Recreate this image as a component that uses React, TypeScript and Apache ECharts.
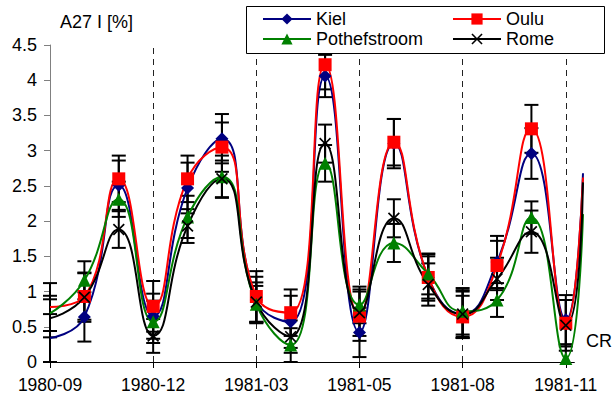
import React, { useEffect, useRef } from 'react';
import * as echarts from 'echarts';

// Carrington-rotation index (one point per rotation)
const rotations = [0, 1, 2, 3, 4, 5, 6, 7, 8, 9, 10, 11, 12, 13, 14, 15];
// Tick positions (every 3 rotations) and their date labels
const tickValues = [0, 3, 6, 9, 12, 15];
const tickLabels = ['1980-09', '1980-12', '1981-03', '1981-05', '1981-08', '1981-11'];

// A27 I [%] values
const kiel = [0.34, 0.64, 2.51, 0.65, 2.47, 3.17, 0.88, 0.57, 4.06, 0.42, 3.1, 1.2, 0.68, 1.42, 2.96, 0.6];
const oulu = [0.78, 0.93, 2.6, 0.79, 2.6, 3.05, 0.93, 0.7, 4.22, 0.65, 3.12, 1.2, 0.64, 1.37, 3.31, 0.55];
const pothefstroom = [0.69, 1.16, 2.31, 0.57, 2.06, 2.63, 0.82, 0.24, 2.82, 0.81, 1.69, 1.25, 0.72, 0.88, 2.05, 0.05];
const rome = [0.62, 0.92, 1.88, 0.37, 1.93, 2.6, 0.85, 0.36, 3.1, 0.7, 2.04, 1.1, 0.68, 1.18, 1.85, 0.52];

// Error half-widths
const kielErr = [0.34, 0.35, 0.35, 0.32, 0.36, 0.35, 0.33, 0.37, 0.3, 0.35, 0.35, 0.33, 0.32, 0.37, 0.36, 0.35];
const ouluErr = [0.34, 0.33, 0.33, 0.36, 0.33, 0.35, 0.36, 0.33, 0.35, 0.35, 0.33, 0.3, 0.3, 0.35, 0.34, 0.33];
const pothefstroomErr = [0.25, 0.27, 0.25, 0.3, 0.3, 0.3, 0.26, 0.24, 0.26, 0.26, 0.27, 0.29, 0.33, 0.24, 0.23, 0.2];
const romeErr = [0.27, 0.35, 0.26, 0.24, 0.24, 0.26, 0.28, 0.23, 0.27, 0.33, 0.27, 0.3, 0.34, 0.3, 0.3, 0.36];

// Curves continue past the last rotation to the plot edge (values read at the edge)
const edgeX = 15.5;
const edgeValues = [2.68, 2.62, 2.1, 2.55]; // Kiel, Oulu, Pothefstroom, Rome
// The horizontal axis line stops a little short of the curves' end
const axisEnd = 15.26;

const Y_MIN = 0;
const Y_MAX = 4.5;

const FONT = '"Liberation Sans", Arial, sans-serif';
const X_PATH = 'path://M0,1L1,0L5,4L9,0L10,1L6,5L10,9L9,10L5,6L1,10L0,9L4,5Z';

const stations = [
  { name: 'Kiel', values: kiel, errors: kielErr, color: '#000080', symbol: 'diamond', size: 13 },
  { name: 'Oulu', values: oulu, errors: ouluErr, color: '#FF0000', symbol: 'rect', size: 13 },
  { name: 'Pothefstroom', values: pothefstroom, errors: pothefstroomErr, color: '#008000', symbol: 'triangle', size: 13 },
  { name: 'Rome', values: rome, errors: romeErr, color: '#000000', symbol: X_PATH, size: 12 },
];

const legendSlots = [
  { name: 'Kiel', left: 262, top: 10 },
  { name: 'Oulu', left: 452, top: 10 },
  { name: 'Pothefstroom', left: 262, top: 30 },
  { name: 'Rome', left: 452, top: 30 },
];

export default function App() {
  const ref = useRef<HTMLDivElement>(null);

  useEffect(() => {
    if (!ref.current) return;
    const chart = echarts.init(ref.current, null, { renderer: 'svg' });

    const lineSeries: any[] = stations.map((s, si) => {
      const data: any[] = s.values.map((v, i) =>
        i === 0 ? { value: [rotations[i], v], symbol: 'none' } : [rotations[i], v]
      );
      data.push({ value: [edgeX, edgeValues[si]], symbol: 'none' });
      const ser: any = {
        name: s.name,
        type: 'line',
        data,
        smooth: 0.5,
        symbol: s.symbol,
        symbolSize: s.size,
        showAllSymbol: true,
        lineStyle: { color: s.color, width: 2 },
        itemStyle: { color: s.color, borderWidth: 0 },
        z: 3,
      };
      if (si === 0) {
        const dashed: any[] = tickValues
          .filter((v) => v > 0)
          .map((v) => ({ xAxis: v }));
        dashed.push([
          { coord: [0, Y_MIN], lineStyle: { type: 'solid', color: '#000', width: 1 } },
          { coord: [axisEnd, Y_MIN] },
        ]);
        ser.markLine = {
          silent: true,
          symbol: ['none', 'none'],
          label: { show: false },
          lineStyle: { color: '#222', type: [6, 5], width: 1 },
          data: dashed,
          z: 1,
        };
      }
      return ser;
    });

    const errData: number[][] = [];
    stations.forEach((s) => {
      s.values.forEach((v, i) => {
        errData.push([rotations[i], v - s.errors[i], v + s.errors[i]]);
      });
    });

    const errorSeries = {
      type: 'custom',
      name: 'errors',
      clip: false,
      z: 2,
      encode: { x: 0, y: [1, 2] },
      data: errData,
      renderItem: (params: any, api: any) => {
        const x = api.value(0);
        const loV = api.value(1);
        const hiV = api.value(2);
        const lo = api.coord([x, Math.max(loV, Y_MIN)]);
        const hi = api.coord([x, Math.min(hiV, Y_MAX)]);
        const w = 7;
        const st = { stroke: '#000', lineWidth: 2 };
        const children: any[] = [
          { type: 'line', shape: { x1: lo[0], y1: lo[1], x2: hi[0], y2: hi[1] }, style: st },
        ];
        if (hiV <= Y_MAX) {
          children.push({ type: 'line', shape: { x1: hi[0] - w, y1: hi[1], x2: hi[0] + w, y2: hi[1] }, style: st });
        }
        if (loV >= Y_MIN) {
          children.push({ type: 'line', shape: { x1: lo[0] - w, y1: lo[1], x2: lo[0] + w, y2: lo[1] }, style: st });
        }
        return { type: 'group', children };
      },
    };

    const legends = legendSlots.map((slot) => ({
      orient: 'horizontal',
      left: slot.left,
      top: slot.top,
      itemWidth: 48,
      itemHeight: 14,
      selectedMode: false,
      z: 12,
      padding: 0,
      data: [slot.name],
      textStyle: { fontSize: 18, fontFamily: FONT, color: '#000', lineHeight: 18 },
    }));

    chart.setOption({
      animation: false,
      backgroundColor: '#fff',
      grid: { left: 50, top: 45, width: 533, height: 317, containLabel: false },
      xAxis: {
        type: 'value',
        min: 0,
        max: 15.5,
        interval: 3,
        axisLine: { show: false },
        axisTick: { show: true, length: 6, lineStyle: { color: '#000' }, customValues: tickValues },
        axisLabel: {
          customValues: tickValues,
          formatter: (v: number) => tickLabels[Math.round(v / 3)] ?? '',
          margin: 14,
          fontSize: 17.5,
          fontFamily: FONT,
          color: '#000',
        },
        splitLine: { show: false },
      },
      yAxis: {
        type: 'value',
        min: Y_MIN,
        max: Y_MAX,
        interval: 0.5,
        axisLine: { show: true, lineStyle: { color: '#808080', width: 1 } },
        axisTick: { show: true, length: 6, lineStyle: { color: '#808080' } },
        axisLabel: { margin: 13, fontSize: 18, fontFamily: FONT, color: '#000' },
        splitLine: { show: false },
      },
      legend: legends,
      graphic: [
        {
          type: 'rect',
          z: 11,
          shape: { x: 246.5, y: 6.5, width: 358, height: 47 },
          style: { fill: '#fff', stroke: '#000', lineWidth: 1 },
        },
        {
          type: 'text',
          left: 60,
          top: 13,
          style: { text: 'A27 I [%]', font: `18px ${FONT}`, fill: '#000' },
        },
        {
          type: 'text',
          left: 586,
          top: 332,
          style: { text: 'CR', font: `18px ${FONT}`, fill: '#000' },
        },
      ],
      series: [errorSeries, ...lineSeries],
    });

    return () => chart.dispose();
  }, []);

  return (
    <div
      ref={ref}
      style={{ position: 'absolute', left: 0, top: 0, width: 615, height: 404 }}
    />
  );
}
